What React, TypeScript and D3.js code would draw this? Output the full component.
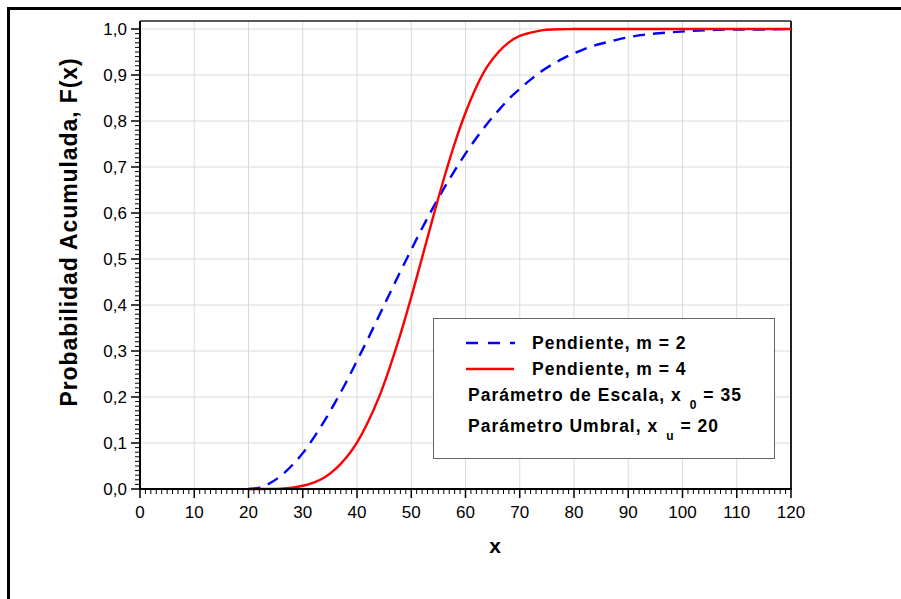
import React from "react";
import * as d3 from "d3";

// x values
const xValues = [20, 22, 24, 26, 28, 30, 32, 34, 36, 38, 40, 42, 44, 46, 48, 50, 52, 54, 56, 58, 60, 62, 64, 66, 68, 70, 72, 74, 76, 78, 80, 82, 84, 86, 88, 90, 94, 98, 102, 106, 110, 115, 120];
// Pendiente m = 2 (dashed blue)
const seriesM2 = [0, 0.003, 0.013, 0.029, 0.051, 0.078, 0.111, 0.148, 0.189, 0.232, 0.279, 0.326, 0.375, 0.424, 0.473, 0.520, 0.567, 0.611, 0.653, 0.692, 0.729, 0.763, 0.794, 0.822, 0.848, 0.870, 0.890, 0.908, 0.923, 0.936, 0.947, 0.957, 0.965, 0.971, 0.977, 0.982, 0.989, 0.993, 0.996, 0.998, 0.999, 0.999, 1.0];
// Pendiente m = 4 (solid red)
const seriesM4 = [0, 0.0, 0.0002, 0.0009, 0.003, 0.007, 0.014, 0.025, 0.043, 0.068, 0.101, 0.145, 0.198, 0.263, 0.336, 0.417, 0.503, 0.590, 0.674, 0.751, 0.818, 0.874, 0.918, 0.949, 0.971, 0.985, 0.992, 0.997, 0.999, 0.9995, 1.0, 1.0, 1.0, 1.0, 1.0, 1.0, 1.0, 1.0, 1.0, 1.0, 1.0, 1.0, 1.0];

const xTicks = [0, 10, 20, 30, 40, 50, 60, 70, 80, 90, 100, 110, 120];
const yTicks = [0, 0.1, 0.2, 0.3, 0.4, 0.5, 0.6, 0.7, 0.8, 0.9, 1.0];

const FONT = "'Liberation Sans', Arial, sans-serif";

export default function App() {
  const W = 901, H = 599;
  const left = 140, right = 791, top = 21, bottom = 489;
  const x = d3.scaleLinear().domain([0, 120]).range([left, right]);
  const y = d3.scaleLinear().domain([0, 1.0174]).range([bottom, top]);

  const line = d3.line<number>()
    .x((_, i) => x(xValues[i]))
    .y((d) => y(d))
    .curve(d3.curveMonotoneX);

  const minorX = d3.range(0, 121, 1).filter((v) => v % 10 !== 0);
  const minorY = d3.range(0, 101, 1).filter((v) => v % 10 !== 0).map((v) => v / 100);
  const fmt = (v: number) => v.toFixed(1).replace(".", ",");

  return (
    <svg width={W} height={H} style={{ position: "absolute", left: 0, top: 0 }}>
      <rect x={0} y={0} width={W} height={H} fill="#fff" />
      {/* outer frame */}
      <line x1={8} y1={8.5} x2={W} y2={8.5} stroke="#000" strokeWidth={3} />
      <line x1={8.5} y1={7} x2={8.5} y2={H} stroke="#000" strokeWidth={3} />

      {/* grid */}
      {xTicks.slice(1, -1).map((t) => (
        <line key={"gx" + t} x1={x(t)} x2={x(t)} y1={top} y2={bottom} stroke="#dadada" strokeWidth={1} />
      ))}
      {yTicks.slice(1).map((t) => (
        <line key={"gy" + t} x1={left} x2={right} y1={y(t)} y2={y(t)} stroke="#dadada" strokeWidth={1} />
      ))}

      {/* plot border top/right */}
      <line x1={left} x2={right} y1={top} y2={top} stroke="#222" strokeWidth={1.5} />
      <line x1={right} x2={right} y1={top} y2={bottom} stroke="#222" strokeWidth={2} />

      {/* legend box */}
      <rect x={433.5} y={318.5} width={341} height={140} fill="#fff" stroke="#666" strokeWidth={1} />

      {/* curves */}
      <path d={line(seriesM2) || ""} fill="none" stroke="#0000ff" strokeWidth={2.4} strokeDasharray="12,8" />
      <path d={line(seriesM4) || ""} fill="none" stroke="#ff0000" strokeWidth={2.4} />

      {/* axes */}
      <line x1={left} x2={left} y1={top} y2={bottom} stroke="#000" strokeWidth={2} />
      <line x1={left - 1} x2={right + 1} y1={bottom} y2={bottom} stroke="#000" strokeWidth={2} />
      {minorX.map((t) => (
        <line key={"mx" + t} x1={x(t)} x2={x(t)} y1={bottom} y2={bottom + 5} stroke="#000" strokeWidth={1} />
      ))}
      {xTicks.map((t) => (
        <line key={"tx" + t} x1={x(t)} x2={x(t)} y1={bottom} y2={bottom + 9} stroke="#000" strokeWidth={1.5} />
      ))}
      {minorY.map((t) => (
        <line key={"my" + t} x1={left - 5} x2={left} y1={y(t)} y2={y(t)} stroke="#000" strokeWidth={1} />
      ))}
      {yTicks.map((t) => (
        <line key={"ty" + t} x1={left - 9} x2={left} y1={y(t)} y2={y(t)} stroke="#000" strokeWidth={1.5} />
      ))}

      {/* tick labels */}
      {xTicks.map((t) => (
        <text key={"lx" + t} x={x(t)} y={518} textAnchor="middle" fontFamily={FONT} fontSize={17} fill="#000">{t}</text>
      ))}
      {yTicks.map((t) => (
        <text key={"ly" + t} x={127} y={y(t) + 6} textAnchor="end" fontFamily={FONT} fontSize={17} fill="#000">{fmt(t)}</text>
      ))}

      {/* axis titles */}
      <text x={495} y={553} textAnchor="middle" fontFamily={FONT} fontSize={21} fontWeight="bold">x</text>
      <text transform="translate(77,232) rotate(-90)" textAnchor="middle" fontFamily={FONT} fontSize={23} fontWeight="bold" letterSpacing={0.9}>
        Probabilidad Acumulada, F(x)
      </text>

      {/* legend entries */}
      <line x1={466} x2={515} y1={343} y2={343} stroke="#0000ff" strokeWidth={2.4} strokeDasharray="12,10" />
      <line x1={466} x2={514} y1={369} y2={369} stroke="#ff0000" strokeWidth={2.4} />
      <g fontFamily={FONT} fontSize={17.5} fontWeight="bold" letterSpacing={1}>
        <text x={532} y={349}>Pendiente, m = 2</text>
        <text x={532} y={375}>Pendiente, m = 4</text>
        <text x={468} y={401}>
          Parámetro de Escala, x
          <tspan fontSize={12} dy={8} dx={8}>0</tspan>
          <tspan dy={-8} dx={6}>= 35</tspan>
        </text>
        <text x={468} y={432}>
          Parámetro Umbral, x
          <tspan fontSize={12} dy={8} dx={8}>u</tspan>
          <tspan dy={-8} dx={6}>= 20</tspan>
        </text>
      </g>
    </svg>
  );
}
